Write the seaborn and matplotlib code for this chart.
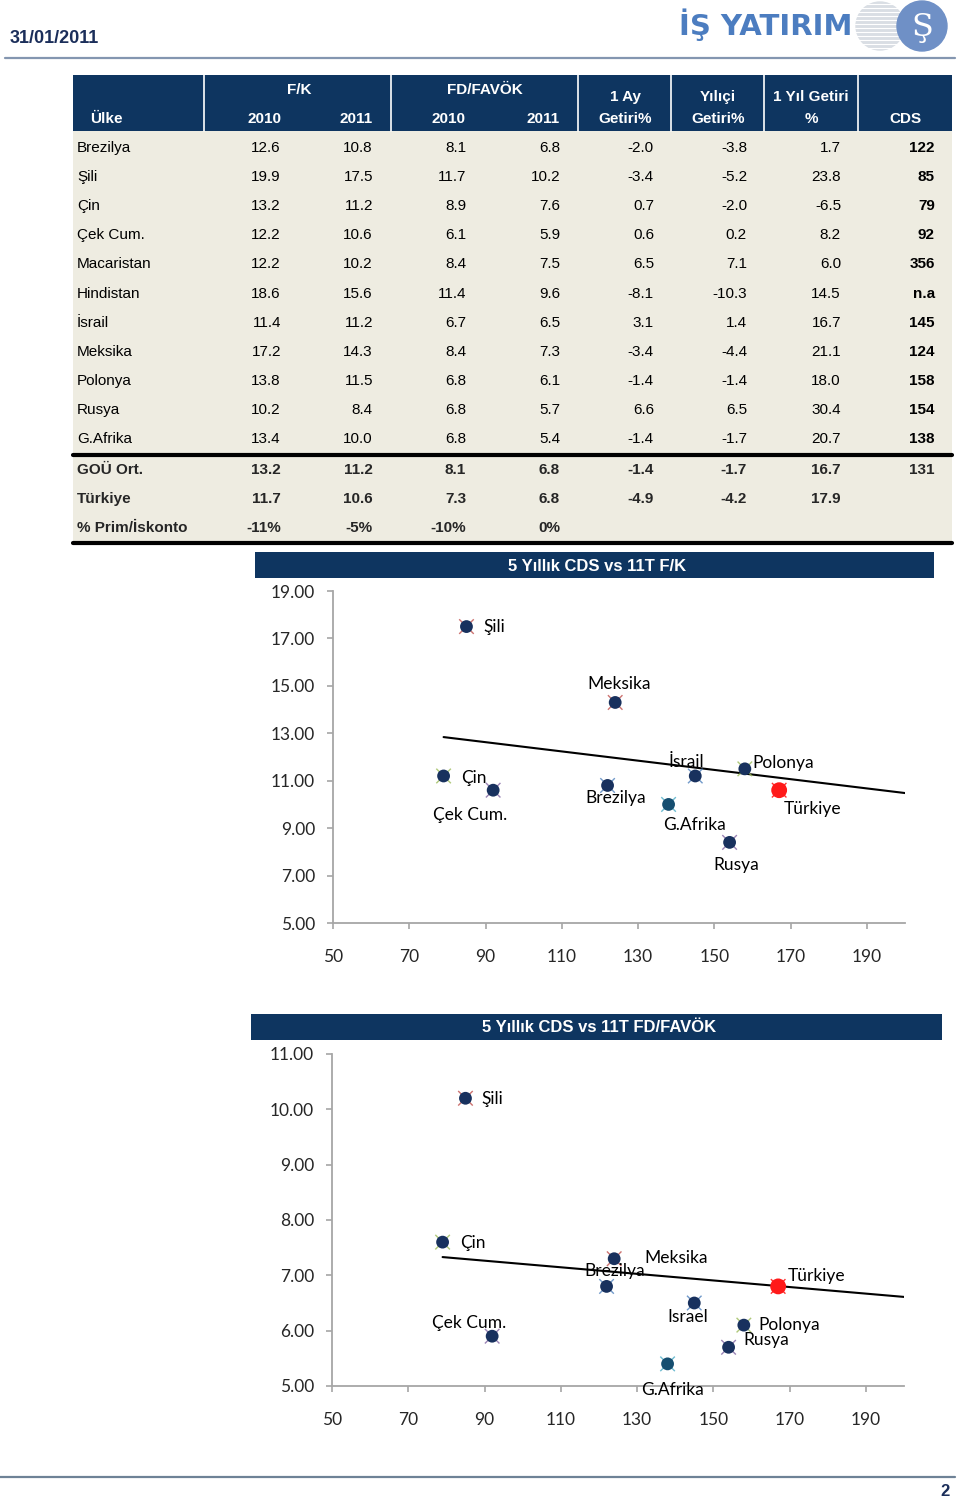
import numpy as np
import pandas as pd
import seaborn as sns
import matplotlib.pyplot as plt
from matplotlib.patches import Rectangle, Circle

# ---------------- data ----------------
countries = ['Brezilya', 'Şili', 'Çin', 'Çek Cum.', 'Macaristan', 'Hindistan',
             'İsrail', 'Meksika', 'Polonya', 'Rusya', 'G.Afrika']
fk_2010 = ['12.6', '19.9', '13.2', '12.2', '12.2', '18.6', '11.4', '17.2', '13.8', '10.2', '13.4']
fk_2011 = ['10.8', '17.5', '11.2', '10.6', '10.2', '15.6', '11.2', '14.3', '11.5', '8.4', '10.0']
fd_2010 = ['8.1', '11.7', '8.9', '6.1', '8.4', '11.4', '6.7', '8.4', '6.8', '6.8', '6.8']
fd_2011 = ['6.8', '10.2', '7.6', '5.9', '7.5', '9.6', '6.5', '7.3', '6.1', '5.7', '5.4']
ret_1m = ['-2.0', '-3.4', '0.7', '0.6', '6.5', '-8.1', '3.1', '-3.4', '-1.4', '6.6', '-1.4']
ret_ytd = ['-3.8', '-5.2', '-2.0', '0.2', '7.1', '-10.3', '1.4', '-4.4', '-1.4', '6.5', '-1.7']
ret_1y = ['1.7', '23.8', '-6.5', '8.2', '6.0', '14.5', '16.7', '21.1', '18.0', '30.4', '20.7']
cds = ['122', '85', '79', '92', '356', 'n.a', '145', '124', '158', '154', '138']

summary_labels = ['GOÜ Ort.', 'Türkiye', '% Prim/İskonto']
summary_values = [
    ['13.2', '11.2', '8.1', '6.8', '-1.4', '-1.7', '16.7', '131'],
    ['11.7', '10.6', '7.3', '6.8', '-4.9', '-4.2', '17.9', ''],
    ['-11%', '-5%', '-10%', '0%', '', '', '', ''],
]

# scatter data (CDS vs 2011 multiples)
pts1 = ['Şili', 'Meksika', 'Çin', 'Çek Cum.', 'Brezilya', 'İsrail', 'G.Afrika', 'Polonya', 'Rusya', 'Türkiye']
cds1 = [85, 124, 79, 92, 122, 145, 138, 158, 154, 167]
fk1 = [17.5, 14.3, 11.2, 10.6, 10.8, 11.2, 10.0, 11.5, 8.4, 10.6]
pts2 = ['Şili', 'Çin', 'Meksika', 'Brezilya', 'Türkiye', 'Çek Cum.', 'Israel', 'Polonya', 'Rusya', 'G.Afrika']
cds2 = [85, 79, 124, 122, 167, 92, 145, 158, 154, 138]
fd2 = [10.2, 7.6, 7.3, 6.8, 6.8, 5.9, 6.5, 6.1, 5.7, 5.4]
trend1_x, trend1_y = [79, 200], [12.84, 10.48]
trend2_x, trend2_y = [79, 200], [7.33, 6.61]

# ---------------- style ----------------
W, H = 960, 1499
NAVY = '#0E3560'
sns.set_theme(style='white')
plt.rcParams['font.family'] = ['Liberation Sans Narrow', 'Liberation Sans', 'DejaVu Sans']
NARROW = ['Liberation Sans Narrow', 'Liberation Sans', 'DejaVu Sans']
CHARTF = ['Lato', 'DejaVu Sans']

fig = plt.figure(figsize=(W / 100, H / 100), dpi=100)
bg = fig.add_axes([0, 0, 1, 1])
bg.set_xlim(0, W)
bg.set_ylim(H, 0)
bg.axis('off')

# header
bg.text(10, 38, '31/01/2011', fontsize=13, fontweight='bold', color='#1B2E5A',
        va='center', family=NARROW)
bg.add_patch(Circle((880, 26), 24, color='#D9DEE4', zorder=1))
for yy in range(4, 50, 4):
    bg.plot([855, 905], [yy, yy], color='white', lw=0.8, zorder=2)
bg.add_patch(Circle((922, 26), 25, color='#6F90C6', zorder=3))
bg.text(922, 27, 'Ş', fontsize=23, color='white', ha='center', va='center', zorder=4,
        family=['DejaVu Serif'])
bg.text(679, 25, 'İŞ YATIRIM', fontsize=21, fontweight='heavy', color='#4C7DC0',
        va='center', family=['DejaVu Sans'], zorder=5)
bg.plot([5, 955], [58, 58], color='#8496B0', lw=1.6)

# table
bg.add_patch(Rectangle((73, 75), 879, 56, color=NAVY, lw=0))
bg.add_patch(Rectangle((73, 131), 879, 413, color='#EEECE1', lw=0))
for xs in [204, 391, 578, 671, 764, 858]:
    bg.plot([xs, xs], [75, 131], color='white', lw=1.2)
bg.plot([73, 952], [455, 455], color='black', lw=3)
bg.plot([73, 952], [543, 543], color='black', lw=3)

hdr = dict(color='white', fontweight='bold', fontsize=11, va='center', family=NARROW)
bg.text(90, 119, 'Ülke', **hdr)
bg.text(299, 90, 'F/K', ha='center', **hdr)
bg.text(485, 90, 'FD/FAVÖK', ha='center', **hdr)
for xr, t in zip([281, 373, 466, 560], ['2010', '2011', '2010', '2011']):
    bg.text(xr, 119, t, ha='right', **hdr)
for xc, t1, t2 in [(625, '1 Ay', 'Getiri%'), (718, 'Yılıçi', 'Getiri%'), (811, '1 Yıl Getiri', '%')]:
    bg.text(xc, 97, t1, ha='center', **hdr)
    bg.text(xc, 119, t2, ha='center', **hdr)
bg.text(905, 119, 'CDS', ha='center', **hdr)

col_r = [281, 373, 466, 560, 654, 747, 841, 935]
cols = [fk_2010, fk_2011, fd_2010, fd_2011, ret_1m, ret_ytd, ret_1y, cds]
for i, c in enumerate(countries):
    y = 148 + i * 29.1
    bg.text(77, y, c, fontsize=11, va='center', color='black', family=NARROW)
    for j, col in enumerate(cols):
        bg.text(col_r[j], y, col[i], fontsize=11, va='center', ha='right', color='black',
                family=NARROW, fontweight='bold' if j == 7 else 'normal')
for i, (lab, vals) in enumerate(zip(summary_labels, summary_values)):
    y = 470 + i * 29
    bg.text(77, y, lab, fontsize=11, va='center', fontweight='bold', family=NARROW)
    for j, v in enumerate(vals):
        bg.text(col_r[j], y, v, fontsize=11, va='center', ha='right', fontweight='bold', family=NARROW)

# ---------------- scatter charts ----------------
glow = {'Şili': '#C0504D', 'Meksika': '#C0504D', 'Çin': '#9BBB59', 'Polonya': '#9BBB59',
        'Çek Cum.': '#8064A2', 'Rusya': '#8064A2', 'Brezilya': '#4F81BD', 'İsrail': '#4F81BD',
        'Israel': '#4F81BD', 'G.Afrika': '#4BACC6', 'Türkiye': '#FF0000'}

off1 = {'Şili': (17, 0, 'left'), 'Meksika': (4, 18, 'center'), 'Çin': (18, -2, 'left'),
        'Çek Cum.': (-23, -25, 'center'), 'Brezilya': (8, -13, 'center'),
        'İsrail': (-9, 14, 'center'), 'G.Afrika': (26, -21, 'center'),
        'Polonya': (8, 6, 'left'), 'Türkiye': (33, -19, 'center'), 'Rusya': (7, -23, 'center')}
off2 = {'Şili': (16, -1, 'left'), 'Çin': (18, -1, 'left'), 'Meksika': (62, 1, 'center'),
        'Brezilya': (8, 15, 'center'), 'Türkiye': (10, 10, 'left'),
        'Çek Cum.': (-23, 13, 'center'), 'Israel': (-7, -14, 'center'),
        'Polonya': (15, 0, 'left'), 'Rusya': (15, 7, 'left'), 'G.Afrika': (5, -26, 'center')}


def chart(box, bar, title, names, xs, ys, tx, ty, ylim, yticks, offs):
    l, t, r, b = box
    bg.add_patch(Rectangle((bar[0], bar[1]), bar[2] - bar[0], bar[3] - bar[1], color=NAVY, lw=0))
    bg.text((bar[0] + bar[2]) / 2 + 3, (bar[1] + bar[3]) / 2 + 1, title, color='white',
            fontweight='bold', fontsize=12, ha='center', va='center', family=['Liberation Sans', 'DejaVu Sans'])
    ax = fig.add_axes([l / W, 1 - b / H, (r - l) / W, (b - t) / H])
    ax.set_facecolor('none')
    df = pd.DataFrame({'name': names, 'cds': xs, 'val': ys})
    sns.lineplot(x=tx, y=ty, color='black', lw=1.5, ax=ax, zorder=2)
    sns.scatterplot(data=df, x='cds', y='val', hue='name', palette=glow, marker='x',
                    s=110, linewidth=1.0, legend=False, ax=ax, zorder=3, alpha=0.8)
    base = df[df['name'] != 'Türkiye']
    tr = df[df['name'] == 'Türkiye']
    navy_pt = ['#164E70' if n == 'G.Afrika' else '#18315E' for n in base['name']]
    sns.scatterplot(data=base, x='cds', y='val', color=navy_pt, s=85, edgecolor='none',
                    legend=False, ax=ax, zorder=4)
    sns.scatterplot(data=tr, x='cds', y='val', color='#FF1A1A', s=130, edgecolor='none',
                    legend=False, ax=ax, zorder=4)
    for n, x, y in zip(names, xs, ys):
        dx, dy, ha = offs[n]
        ax.annotate(n, (x, y), xytext=(dx, dy), textcoords='offset pixels', ha=ha,
                    va='center', fontsize=12.5, family=CHARTF, color='black', zorder=5)
    ax.set_xlim(50, 200)
    ax.set_ylim(*ylim)
    ax.set_xticks(range(50, 200, 20))
    ax.set_yticks(yticks)
    ax.set_yticklabels([f'{v:.2f}' for v in yticks], family=CHARTF, fontsize=12.5)
    ax.set_xticklabels([str(v) for v in range(50, 200, 20)], family=CHARTF, fontsize=12.5)
    ax.set_xlabel('')
    ax.set_ylabel('')
    sns.despine(ax=ax)
    for s in ['left', 'bottom']:
        ax.spines[s].set_color('#A6A6A6')
        ax.spines[s].set_linewidth(1.3)
    ax.tick_params(axis='both', direction='out', length=4, width=1.2, color='#A6A6A6',
                   left=True, bottom=True)
    ax.tick_params(axis='y', pad=9)
    ax.tick_params(axis='x', pad=15)
    return ax


chart((333, 591, 905, 923), (255, 552, 934, 578), '5 Yıllık CDS vs 11T F/K',
      pts1, cds1, fk1, trend1_x, trend1_y, (5, 19), list(range(5, 20, 2)), off1)
chart((332, 1054, 904, 1386), (251, 1014, 942, 1040), '5 Yıllık CDS vs 11T FD/FAVÖK',
      pts2, cds2, fd2, trend2_x, trend2_y, (5, 11), list(range(5, 12)), off2)

# footer
bg.plot([0, 955], [1477, 1477], color='#6E8296', lw=1.6)
bg.text(950, 1492, '2', fontsize=12, fontweight='bold', color='#1B2E5A', ha='right',
        va='center', family=NARROW)

fig.savefig('out.png', dpi=100)
